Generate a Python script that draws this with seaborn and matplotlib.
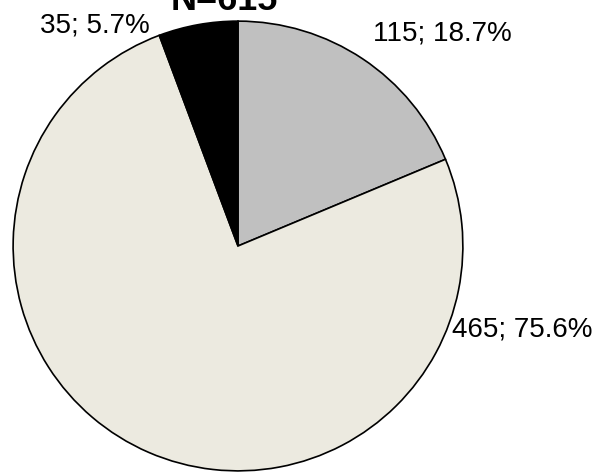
import matplotlib
matplotlib.use("Agg")
import matplotlib.pyplot as plt
import seaborn as sns

counts = [115, 465, 35]
colors = ["#c0c0c0", "#eceae0", "#000000"]
# label anchor points in pixels (left, baseline)
label_pos = [(373, 41), (452, 337), (40, 32)]

sns.set_theme()
sns.set_style("white")
plt.rcParams["font.family"] = ["Liberation Sans", "DejaVu Sans"]
plt.rcParams["text.color"] = "black"

W, H = 599, 473
fig = plt.figure(figsize=(W / 100, H / 100), dpi=100)
cx, cy, r = 238, 246, 226
ax = fig.add_axes([(cx - r) / W, (H - cy - r) / H, 2 * r / W, 2 * r / H])

ax.pie(
    counts,
    colors=colors,
    startangle=90,
    counterclock=False,
    wedgeprops={"edgecolor": "black", "linewidth": 1.2},
)
ax.set_xlim(-1.005, 1.005)
ax.set_ylim(-1.005, 1.005)

total = sum(counts)
for v, (px, py) in zip(counts, label_pos):
    fig.text(px / W, 1 - py / H, f"{v}; {v / total * 100:.1f}%",
             fontsize=20, ha="left", va="baseline", color="black")

fig.text(224 / W, 1 - 10 / H, f"N={total}", fontsize=26, fontweight="bold",
         ha="center", va="baseline", color="black")

fig.savefig("out.png", dpi=100)
